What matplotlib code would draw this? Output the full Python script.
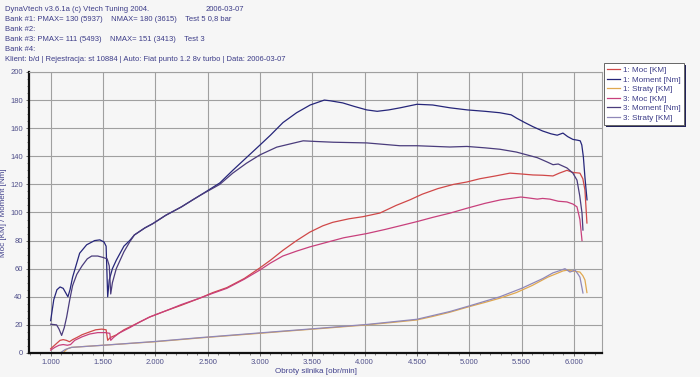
import matplotlib
matplotlib.use('Agg')
import matplotlib.pyplot as plt
from matplotlib.patches import Rectangle
from matplotlib.transforms import IdentityTransform
from matplotlib.ticker import MultipleLocator, FuncFormatter

# Dyno data (rpm, value)
rpm_moc1 = [1000, 1030, 1060, 1090, 1120, 1150, 1180, 1210, 1250, 1300, 1373, 1430, 1488, 1530, 1545,
            1570, 1631, 1700, 1755, 1850, 1946, 2100, 2250, 2424, 2550, 2683, 2850, 2998, 3100, 3218,
            3350, 3476, 3600, 3696, 3850, 3983, 4146, 4300, 4433, 4550, 4700, 4850, 4977, 5100, 5250,
            5388, 5480, 5608, 5700, 5799, 5860, 5933, 5990, 6057, 6085, 6105, 6124]
moc1 = [3, 5, 7, 9, 9.5, 9, 8, 9.5, 11, 13, 15, 16.5, 17, 16.5, 9,
        11, 13, 16.5, 18.5, 22, 25.6, 30, 34, 39, 43, 46.5, 53, 60.5, 66, 73,
        80, 86, 90.5, 93, 95.5, 97, 99.6, 105, 109, 113, 117, 120, 121.7, 124, 126,
        128, 127.5, 126.7, 126.5, 126, 128, 130, 128.5, 128, 124, 116, 92.5]

rpm_moment1 = [1000, 1030, 1060, 1090, 1120, 1150, 1165, 1185, 1210, 1277, 1344, 1420, 1470, 1510, 1530,
               1545, 1560, 1590, 1627, 1700, 1755, 1800, 1900, 1975, 2100, 2250, 2358, 2424, 2616, 2740,
               2870, 3000, 3100, 3220, 3350, 3480, 3615, 3670, 3790, 3900, 4020, 4120, 4230, 4340, 4500,
               4650, 4815, 4980, 5150, 5290, 5400, 5455, 5530, 5610, 5700, 5780, 5840, 5895, 5940, 5990,
               6030, 6060, 6075, 6090, 6105, 6125]
moment1 = [23, 38, 45, 47, 46, 42, 40, 45, 54, 71, 77, 80, 80.5, 79, 76,
           40, 52, 60, 66, 76, 80, 84, 89, 92, 98, 104, 109, 112, 121, 130,
           139, 148, 155, 164, 171, 176.5, 180, 179.5, 178, 175.5, 173, 172, 173, 174.5, 177,
           176.5, 174.5, 173, 172, 171, 169.5, 167, 164, 161, 158, 156, 155, 156.5, 154, 152,
           151.5, 151, 148, 139.5, 125, 109]

rpm_straty1 = [1130, 1160, 1200, 1300, 1500, 1700, 2000, 2424, 2700, 2998, 3300, 3600, 4021, 4300, 4499,
               4650, 4814, 5000, 5150, 5292, 5450, 5600, 5751, 5850, 5895, 5940, 5981, 6020, 6057, 6085,
               6105, 6124]
straty1 = [1, 3, 4, 4.5, 5.5, 6.5, 8, 10.7, 12.3, 14, 15.8, 17.5, 20, 22, 23.5,
           26, 29, 33, 36, 39, 43, 48, 54, 57, 58.4, 59, 58.4, 58, 57.6, 55,
           52, 43]

rpm_moc3 = [1000, 1040, 1080, 1120, 1160, 1190, 1230, 1300, 1373, 1450, 1520, 1565, 1574, 1600, 1650,
            1755, 1850, 1946, 2100, 2250, 2424, 2550, 2683, 2850, 2998, 3100, 3218, 3350, 3476, 3650,
            3800, 4021, 4200, 4337, 4500, 4650, 4814, 4977, 5150, 5300, 5493, 5550, 5650, 5700, 5770,
            5850, 5933, 5990, 6029, 6057, 6077]
moc3 = [2, 4, 5.5, 6, 5.5, 6, 9, 11.5, 13.5, 14.5, 14.5, 14, 9, 11, 14,
        18, 22, 25.6, 30, 34.5, 39, 42.5, 46, 52.5, 59, 64, 69, 72.5, 75.5, 79,
        82, 85, 88, 90.5, 93.5, 96.5, 99.5, 103, 106.5, 109, 111, 110.5, 109.5, 110, 109.5,
        108, 107.5, 106, 104, 95, 80]

rpm_moment3 = [1000, 1057, 1080, 1105, 1130, 1153, 1182, 1210, 1250, 1300, 1350, 1392, 1450, 1500, 1540,
               1560, 1574, 1590, 1627, 1700, 1755, 1800, 1900, 1975, 2100, 2250, 2358, 2424, 2616, 2740,
               2870, 3000, 3160, 3300, 3413, 3543, 3700, 4021, 4337, 4500, 4814, 4977, 5150, 5292, 5450,
               5550, 5650, 5742, 5800, 5850, 5933, 5990, 6029, 6055, 6077, 6086]
moment3 = [20.5, 20, 17, 12.5, 18, 25.6, 37.7, 48, 56, 62, 67, 69, 69, 68, 67,
           62, 42, 50, 60, 72, 79, 84, 89, 92, 98, 104, 109, 112, 120, 128,
           135, 141, 146.5, 149, 151, 150.5, 150, 149.5, 147.5, 147.5, 146.6, 147, 146, 145, 143,
           141, 139, 136, 134, 134.5, 131.7, 128, 123, 112, 99.6, 87.5]

rpm_straty3 = [1100, 1140, 1200, 1500, 2000, 2424, 3000, 3500, 4021, 4500, 4814, 5000, 5292, 5500, 5703,
               5799, 5860, 5914, 5962, 6010, 6040, 6057, 6086]
straty3 = [0.5, 2.5, 4, 5.5, 8.2, 10.9, 14.3, 17.2, 20.3, 24, 29.5, 33.5, 40, 46, 53,
           57, 58.5, 60, 57.6, 59, 56, 54, 42.7]

header_lines = [
    "Bank #1: PMAX= 130 (5937)    NMAX= 180 (3615)    Test 5 0,8 bar",
    "Bank #2:",
    "Bank #3: PMAX= 111 (5493)    NMAX= 151 (3413)    Test 3",
    "Bank #4:",
    "Klient: b/d | Rejestracja: st 10884 | Auto: Fiat punto 1.2 8v turbo | Data: 2006-03-07",
]

bg = '#f6f6f6'
txt = '#3c3c88'
plt.rcParams['font.family'] = 'Liberation Sans'

fig = plt.figure(figsize=(7, 3.77), dpi=100, facecolor=bg)
ax = fig.add_axes([0.0414, 0.0637, 0.8186, 0.7454], facecolor=bg)

ax.plot(rpm_moc1, moc1, color='#d04848', lw=0.9, label='1: Moc [KM]')
ax.plot(rpm_moment1, moment1, color='#26267a', lw=0.9, label='1: Moment [Nm]')
ax.plot(rpm_straty1, straty1, color='#e0a850', lw=0.9, label='1: Straty [KM]')
ax.plot(rpm_moc3, moc3, color='#c8407c', lw=0.9, label='3: Moc [KM]')
ax.plot(rpm_moment3, moment3, color='#4a3c7c', lw=0.9, label='3: Moment [Nm]')
ax.plot(rpm_straty3, straty3, color='#9088b8', lw=0.9, label='3: Straty [KM]')

ax.set_xlim(793, 6268)
ax.set_ylim(0, 200)
ax.xaxis.set_major_locator(MultipleLocator(500))
ax.xaxis.set_minor_locator(MultipleLocator(100))
ax.yaxis.set_major_locator(MultipleLocator(20))
ax.yaxis.set_minor_locator(MultipleLocator(5))
ax.xaxis.set_major_formatter(FuncFormatter(lambda v, p: f"{v/1000:.3f}"))
ax.set_xticks([1000 + 500 * i for i in range(11)])
ax.grid(True, which='major', color='#a0a0a0', lw=0.8)
ax.tick_params(which='both', colors='#555555', labelcolor='#50508a', labelsize=5.5, direction='out')
ax.tick_params(which='major', length=2.5, width=0.6, pad=2)
ax.tick_params(which='minor', length=1.5, width=0.5)
for s in ['left', 'bottom']:
    ax.spines[s].set_color('#111111')
    ax.spines[s].set_linewidth(1.6)
for s in ['top', 'right']:
    ax.spines[s].set_color('#a0a0a0')
    ax.spines[s].set_linewidth(0.8)

ax.set_xlabel('Obroty silnika [obr/min]', color='#40408c', fontsize=5.8, labelpad=1.5)
ax.set_ylabel('Moc [KM] / Moment [Nm]', color='#40408c', fontsize=5.8, labelpad=2)

leg = ax.legend(loc='upper left', bbox_to_anchor=(1.003, 1.032), borderaxespad=0, fontsize=5.9,
                handlelength=1.6, handletextpad=0.35, labelspacing=0.22, borderpad=0.4,
                fancybox=False, framealpha=1, edgecolor='#666666')
leg.get_frame().set_linewidth(0.7)
for t in leg.get_texts():
    t.set_color(txt)

# thin dark shadow right/below the legend box
fig.canvas.draw()
bb = leg.get_window_extent()
fig.patches.append(Rectangle((bb.x0 + 2, bb.y0 - 2), bb.width, bb.height, transform=IdentityTransform(),
                             facecolor='#22225a', edgecolor='none', zorder=-1))

fig.text(0.007, 0.985, "DynaVtech v3.6.1a (c) Vtech Tuning 2004.", color=txt, fontsize=5.5, va='top')
fig.text(0.293, 0.985, "2006-03-07", color=txt, fontsize=5.5, va='top')
for i, line in enumerate(header_lines):
    fig.text(0.007, 0.985 - (i + 1) * 0.0265, line, color=txt, fontsize=5.5, va='top')

plt.savefig('out.png', dpi=100, facecolor=bg)
